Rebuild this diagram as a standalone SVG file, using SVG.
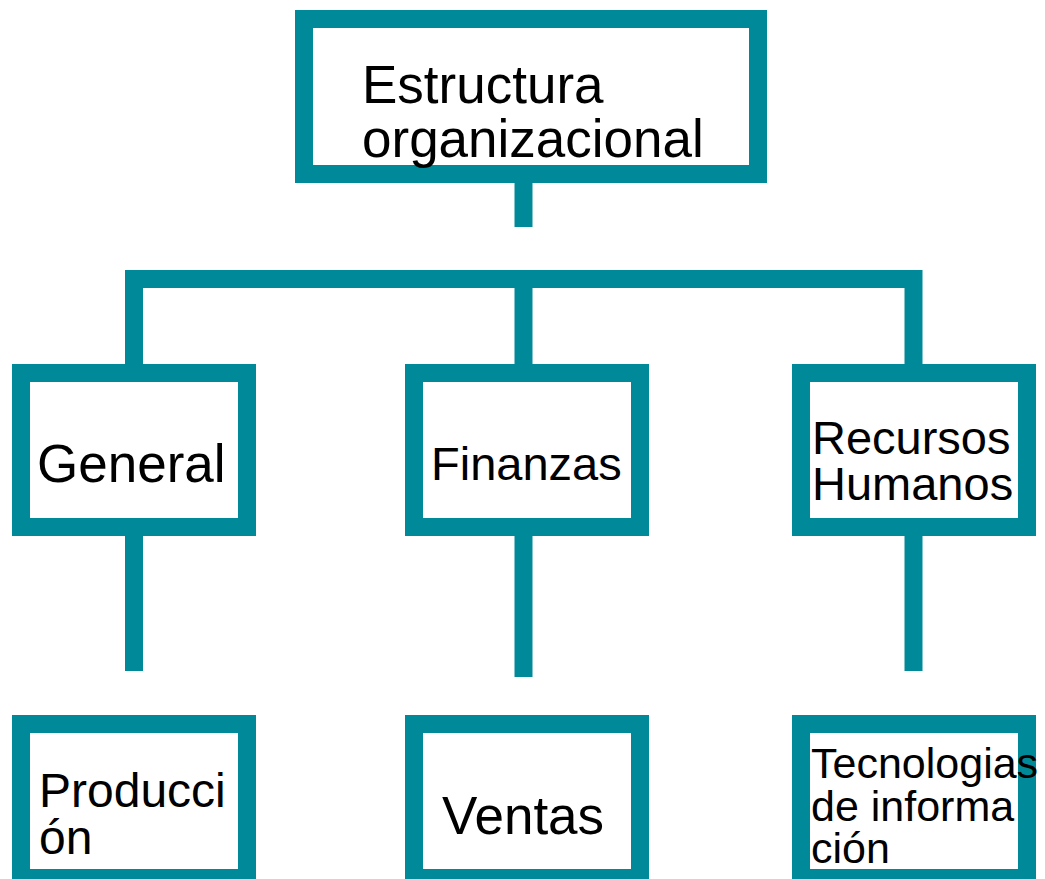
<svg xmlns="http://www.w3.org/2000/svg" width="1045" height="879" viewBox="0 0 1045 879">
<style>
.box{fill:#fff;stroke:#008A99;stroke-width:18}
.conn{fill:none;stroke:#008A99;stroke-width:18;stroke-linejoin:miter;stroke-linecap:butt}
text{font-family:"Liberation Sans",Arial,sans-serif;fill:#000}
</style>
<rect width="1045" height="879" fill="#fff"/>
<g id="connectors">
<path class="conn" d="M523.5,183 V227"/>
<path class="conn" d="M134,364 V279 H913.5 V364"/>
<path class="conn" d="M523.5,288 V364"/>
<path class="conn" d="M134,536 V671"/>
<path class="conn" d="M523.5,536 V677"/>
<path class="conn" d="M913.5,536 V671"/>
</g>
<g id="node-estructura">
<rect class="box" x="304" y="19" width="454" height="155"/>
<text x="362" y="103" font-size="53">Estructura</text>
<text x="362" y="157" font-size="53">organizacional</text>
</g>
<g id="node-general">
<rect class="box" x="21" y="373" width="226" height="154"/>
<text x="37" y="482" font-size="53">General</text>
</g>
<g id="node-finanzas">
<rect class="box" x="414" y="373" width="226" height="154"/>
<text x="431" y="480" font-size="47">Finanzas</text>
</g>
<g id="node-rrhh">
<rect class="box" x="801" y="373" width="226" height="154"/>
<text x="812" y="454" font-size="47">Recursos</text>
<text x="812" y="500" font-size="47">Humanos</text>
</g>
<g id="node-produccion">
<rect class="box" x="21" y="724" width="226" height="154"/>
<text x="39" y="807" font-size="48">Producci</text>
<text x="39" y="854" font-size="48">ón</text>
</g>
<g id="node-ventas">
<rect class="box" x="414" y="724" width="226" height="154"/>
<text x="442" y="834" font-size="53">Ventas</text>
</g>
<g id="node-tecnologias">
<rect class="box" x="801" y="724" width="226" height="154"/>
<text x="811" y="778" font-size="43">Tecnologias</text>
<text x="811" y="821" font-size="43">de informa</text>
<text x="811" y="863" font-size="43">ción</text>
</g>
</svg>
